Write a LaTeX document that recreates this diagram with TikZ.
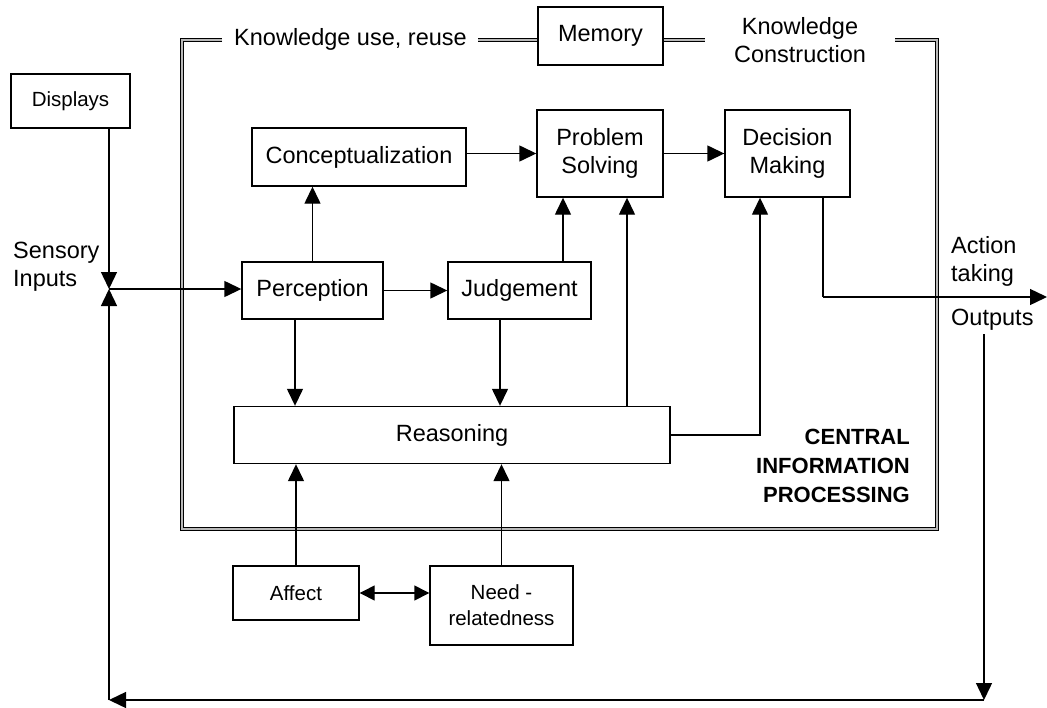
\documentclass[tikz,border=0pt]{standalone}
\usepackage{fontspec}
\setmainfont{Liberation Sans}
\usetikzlibrary{arrows.meta,calc}
\newcommand\fMain{\fontsize{23.5}{28}\selectfont}
\newcommand\fSmall{\fontsize{20.5}{26}\selectfont}
\newcommand\fBold{\fontsize{22}{29}\selectfont\bfseries}
\begin{document}
\begin{tikzpicture}[x=1pt,y=-1pt,
  box/.style={draw, line width=1.4pt, inner sep=0pt, align=center, font=\fMain},
  sbox/.style={box, font=\fSmall},
  lab/.style={inner sep=0pt, font=\fMain},
  arr/.style={line width=1.4pt, -{Triangle[length=17pt,width=16pt]}},
  darr/.style={line width=1.4pt, {Triangle[length=15pt,width=15pt]}-{Triangle[length=15pt,width=15pt]}},
  ln/.style={line width=1.4pt},
  frame/.style={line width=1.3pt, double=gray!55, double distance=2pt}
]
\useasboundingbox (0,0) rectangle (1047,707);

% nodes
\node[sbox, minimum width=119pt, minimum height=54pt] (disp) at (70.5,101) {Displays};
\node[box, minimum width=214pt, minimum height=58pt] (concept) at (359,157) {Conceptualization};
\node[box, minimum width=126pt, minimum height=87pt] (ps) at (600,153.5) {Problem\\Solving};
\node[box, minimum width=125pt, minimum height=87pt] (dm) at (787.5,153.5) {Decision\\Making};
\node[box, minimum width=141pt, minimum height=57pt] (perc) at (312.5,290.5) {Perception};
\node[box, minimum width=143pt, minimum height=57pt] (judg) at (519.5,290.5) {Judgement};
\node[box, minimum width=436pt, minimum height=57pt] (reas) at (452,435) {Reasoning};
\node[sbox, minimum width=126pt, minimum height=54pt] (affect) at (296,593) {Affect};
\node[sbox, minimum width=143pt, minimum height=79pt] (need) at (501.5,605.5) {Need -\\relatedness};
\node[box, minimum width=125pt, minimum height=58pt] (mem) at (600.5,36) {Memory};

% labels
\node[lab, anchor=center] (kuse) at (350.5,39) {Knowledge use, reuse};
\node[lab, align=center] (kcon) at (800,40) {Knowledge\\Construction};
\node[lab, align=left, anchor=west] (sens) at (13,267) {Sensory\\Inputs};
\node[lab, align=left, anchor=west] (act) at (951,261) {Action\\taking};
\node[lab, anchor=west] (outp) at (951,320) {Outputs};
\node[inner sep=0pt, align=right, anchor=east, font=\fBold] (cip) at (910,466) {CENTRAL\\INFORMATION\\PROCESSING};

% coordinates
\coordinate (j) at (109,289);
\coordinate (bl) at (109,700);
\coordinate (br) at (984,700);
\coordinate (otop) at (984,334);
\coordinate (out) at (1047,297);
\coordinate (dmturn) at (823,297);

% frame
\draw[frame] (222,40) -- (182,40) -- (182,529) -- (937,529) -- (937,40) -- (895,40);
\draw[frame] (478,40) -- (mem.west |- 0,40);
\draw[frame] (mem.east |- 0,40) -- (705,40);

% connectors
\draw[arr] (disp.south -| j) -- (j);
\draw[arr] (bl) -- (j);
\draw[arr] (j) -- (j -| perc.west);
\draw[arr] (perc.north) -- (perc.north |- concept.south);
\draw[arr] (ps.west -| concept.east) -- (ps.west);
\draw[arr] (ps.east) -- (dm.west);
\draw[arr] (perc.east) -- (judg.west);
\draw[arr] ([xshift=43.5pt]judg.north) -- ([xshift=43.5pt]judg.north |- ps.south);
\draw[arr] ([xshift=175pt]reas.north) -- ([xshift=175pt]reas.north |- ps.south);
\draw[arr] (reas.east) -| ([xshift=-27.5pt]dm.south);
\draw[arr] ([xshift=-17.5pt]perc.south) -- ([xshift=-17.5pt]perc.south |- reas.north);
\draw[arr] ([xshift=-19.5pt]judg.south) -- ([xshift=-19.5pt]judg.south |- reas.north);
\draw[arr] (affect.north) -- (affect.north |- reas.south);
\draw[arr] (need.north) -- (need.north |- reas.south);
\draw[darr] (affect.east) -- (affect.east -| need.west);
\draw[ln] (dm.south -| dmturn) -- (dmturn);
\draw[arr] (dmturn) -- (out);
\draw[arr] (otop) -- (br);
\draw[arr] (br) -- (bl);
\end{tikzpicture}
\end{document}
